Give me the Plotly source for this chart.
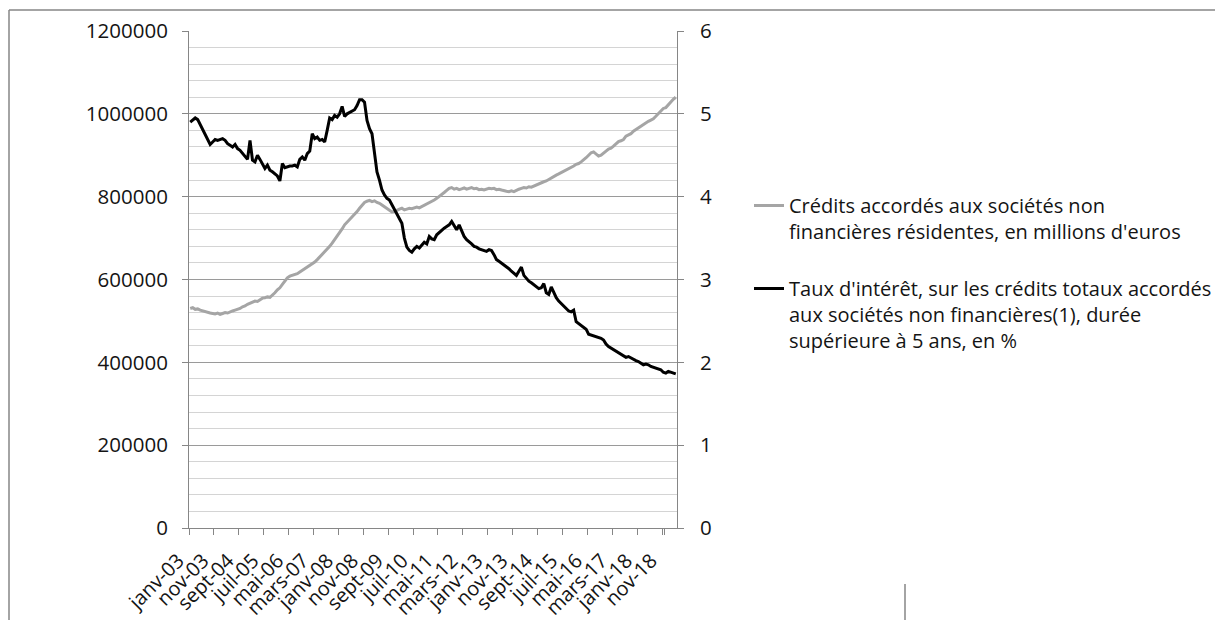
import plotly.graph_objects as go

# ---------------- data ----------------
months_fr = ["janv", "févr", "mars", "avr", "mai", "juin",
             "juil", "août", "sept", "oct", "nov", "déc"]
years = list(range(2003, 2020))
categories = [f"{m}-{y % 100:02d}" for y in years for m in months_fr][:196]

tick_labels = ["janv-03", "nov-03", "sept-04", "juil-05", "mai-06", "mars-07",
               "janv-08", "nov-08", "sept-09", "juil-10", "mai-11", "mars-12",
               "janv-13", "nov-13", "sept-14", "juil-15", "mai-16", "mars-17",
               "janv-18", "nov-18"]

# Crédits accordés aux sociétés non financières résidentes (millions d'euros)
credits = [
    530000, 532000, 528000, 529000, 526000, 524000, 522000, 521000, 519000, 518000, 517000, 519000,  # 2003
    516000, 518000, 520000, 519000, 522000, 524000, 526000, 528000, 530000, 534000, 536000, 540000,  # 2004
    543000, 546000, 548000, 547000, 552000, 555000, 556000, 558000, 557000, 562000, 568000, 575000,  # 2005
    580000, 588000, 596000, 604000, 608000, 610000, 612000, 614000, 618000, 622000, 625000, 628000,  # 2006
    632000, 638000, 642000, 648000, 654000, 660000, 666000, 672000, 680000, 688000, 696000, 704000,  # 2007
    712000, 722000, 732000, 738000, 745000, 752000, 758000, 764000, 772000, 780000, 786000, 789000,  # 2008
    791000, 788000, 790000, 786000, 784000, 780000, 776000, 770000, 766000, 763000, 764000, 768000,  # 2009
    770000, 772000, 768000, 770000, 772000, 771000, 774000, 775000, 773000, 776000, 779000, 782000,  # 2010
    784000, 787000, 792000, 796000, 800000, 805000, 810000, 815000, 820000, 822000, 818000, 820000,  # 2011
    817000, 819000, 821000, 818000, 821000, 822000, 819000, 820000, 817000, 818000, 816000, 818000,  # 2012
    820000, 819000, 820000, 817000, 818000, 816000, 814000, 813000, 812000, 814000, 812000, 816000,  # 2013
    818000, 820000, 822000, 821000, 824000, 823000, 826000, 829000, 832000, 833000, 836000, 838000,  # 2014
    842000, 846000, 850000, 852000, 855000, 858000, 860000, 864000, 866000, 870000, 874000, 878000,  # 2015
    880000, 884000, 888000, 894000, 900000, 906000, 908000, 904000, 898000, 900000, 906000, 910000,  # 2016
    915000, 917000, 922000, 928000, 933000, 935000, 938000, 946000, 949000, 952000, 958000, 962000,  # 2017
    968000, 970000, 975000, 978000, 982000, 985000, 988000, 994000, 1000000, 1006000, 1013000, 1015000,  # 2018
    1022000, 1030000, 1035000, 1040000,  # 2019
]

# Taux d'intérêt, crédits > 5 ans (%)
taux = [
    4.90, 4.92, 4.95, 4.93, 4.87, 4.80, 4.74, 4.68, 4.63, 4.66, 4.69, 4.68,  # 2003
    4.69, 4.70, 4.68, 4.64, 4.62, 4.60, 4.63, 4.58, 4.56, 4.52, 4.48, 4.45,  # 2004
    4.68, 4.44, 4.42, 4.50, 4.45, 4.40, 4.34, 4.38, 4.32, 4.30, 4.28, 4.25,  # 2005
    4.19, 4.40, 4.35, 4.36, 4.37, 4.37, 4.38, 4.36, 4.45, 4.48, 4.44, 4.52,  # 2006
    4.55, 4.76, 4.70, 4.72, 4.68, 4.69, 4.66, 4.80, 4.95, 4.93, 4.98, 4.96,  # 2007
    5.00, 5.09, 4.97, 5.00, 5.02, 5.04, 5.05, 5.10, 5.17, 5.17, 5.14, 4.92,  # 2008
    4.82, 4.76, 4.50, 4.30, 4.20, 4.08, 4.02, 3.98, 3.96, 3.90, 3.84, 3.80,  # 2009
    3.74, 3.68, 3.50, 3.39, 3.35, 3.33, 3.37, 3.40, 3.38, 3.42, 3.45, 3.43,  # 2010
    3.52, 3.49, 3.48, 3.54, 3.57, 3.59, 3.62, 3.64, 3.66, 3.70, 3.64, 3.60,  # 2011
    3.66, 3.58, 3.52, 3.48, 3.46, 3.43, 3.40, 3.39, 3.37, 3.36, 3.35, 3.34,  # 2012
    3.36, 3.35, 3.30, 3.24, 3.22, 3.20, 3.18, 3.16, 3.13, 3.10, 3.07, 3.05,  # 2013
    3.10, 3.15, 3.05, 3.01, 2.98, 2.96, 2.94, 2.92, 2.89, 2.90, 2.95, 2.84,  # 2014
    2.82, 2.91, 2.84, 2.78, 2.74, 2.71, 2.68, 2.66, 2.62, 2.61, 2.63, 2.49,  # 2015
    2.47, 2.45, 2.43, 2.40, 2.34, 2.33, 2.32, 2.31, 2.30, 2.29, 2.27, 2.22,  # 2016
    2.19, 2.17, 2.15, 2.13, 2.11, 2.09, 2.07, 2.06, 2.07, 2.05, 2.03, 2.02,  # 2017
    2.01, 1.99, 1.97, 1.98, 1.97, 1.95, 1.94, 1.93, 1.92, 1.91, 1.88, 1.87,  # 2018
    1.89, 1.88, 1.87, 1.86,  # 2019
]

name_credits = "Crédits accordés aux sociétés non<br>financières résidentes, en millions d'euros"
name_taux = ("Taux d'intérêt, sur les crédits totaux accordés<br>aux sociétés non financières(1), durée"
             "<br>supérieure à 5 ans, en %")

# ---------------- figure ----------------
OFF = 8  # page body margin
W, H = 1215, 612
ML, MT = 189 - OFF, 31 - OFF
PW, PH = 488, 497
MR, MB = W - ML - PW, H - MT - PH

def px_x(p):
    return (p - OFF - ML) / PW

def px_y(p):
    return (H - MB - (p - OFF)) / PH

FONT = "Open Sans"
TXT = "#141414"
AXC = "#868686"

fig = go.Figure()
fig.add_trace(go.Scatter(
    x=categories, y=credits, name=name_credits, mode="lines",
    line=dict(color="#a5a5a5", width=3), legendgroup="a", yaxis="y"))
fig.add_trace(go.Scatter(
    x=categories, y=taux, name=name_taux, mode="lines",
    line=dict(color="#000000", width=3), legendgroup="b", yaxis="y2"))

fig.update_layout(
    width=W, height=H,
    margin=dict(l=ML, r=MR, t=MT, b=MB, autoexpand=False),
    paper_bgcolor="white", plot_bgcolor="white",
    font=dict(family=FONT, size=20, color=TXT),
    showlegend=True,
    legend=dict(x=px_x(749), y=px_y(186), xanchor="left", yanchor="top",
                valign="top", tracegroupgap=28, font=dict(size=20, color=TXT),
                bgcolor="rgba(0,0,0,0)"),
    xaxis=dict(type="category", categoryorder="array", categoryarray=categories,
               tickmode="array", tickvals=tick_labels, ticktext=tick_labels,
               tickson="boundaries", tickfont=dict(size=20),
               tickangle=-45, ticks="outside", ticklen=6, tickcolor=AXC,
               ticklabelstandoff=12, ticklabelshift=-12,
               showline=True, linecolor=AXC, linewidth=1, showgrid=False,
               range=[-0.5, len(categories) - 0.5], zeroline=False),
    yaxis=dict(range=[0, 1200000], tickmode="linear", tick0=0, dtick=200000,
               tickformat="d", ticks="outside", ticklen=6, tickcolor=AXC,
               tickfont=dict(size=20.5),
               showline=True, linecolor=AXC, linewidth=1,
               showgrid=True, gridcolor="#9a9a9a", gridwidth=1,
               minor=dict(dtick=40000, showgrid=True, gridcolor="#d4d4d4", gridwidth=1),
               zeroline=False, ticklabelstandoff=10),
    yaxis2=dict(range=[0, 6], tickmode="linear", tick0=0, dtick=1,
                overlaying="y", side="right", ticks="outside", ticklen=6, tickcolor=AXC,
                tickfont=dict(size=20.5),
                showline=True, linecolor=AXC, linewidth=1, showgrid=False,
                zeroline=False, ticklabelstandoff=12),
    shapes=[
        dict(type="line", xref="paper", yref="paper",
             x0=px_x(9), x1=px_x(1223), y0=px_y(10), y1=px_y(10),
             line=dict(color=AXC, width=1.5)),
        dict(type="line", xref="paper", yref="paper",
             x0=px_x(9), x1=px_x(9), y0=px_y(10), y1=px_y(620),
             line=dict(color=AXC, width=1.5)),
        dict(type="line", xref="paper", yref="paper",
             x0=px_x(905), x1=px_x(905), y0=px_y(584), y1=px_y(620),
             line=dict(color=AXC, width=1.5)),
    ],
)

fig.write_html("out.html")
